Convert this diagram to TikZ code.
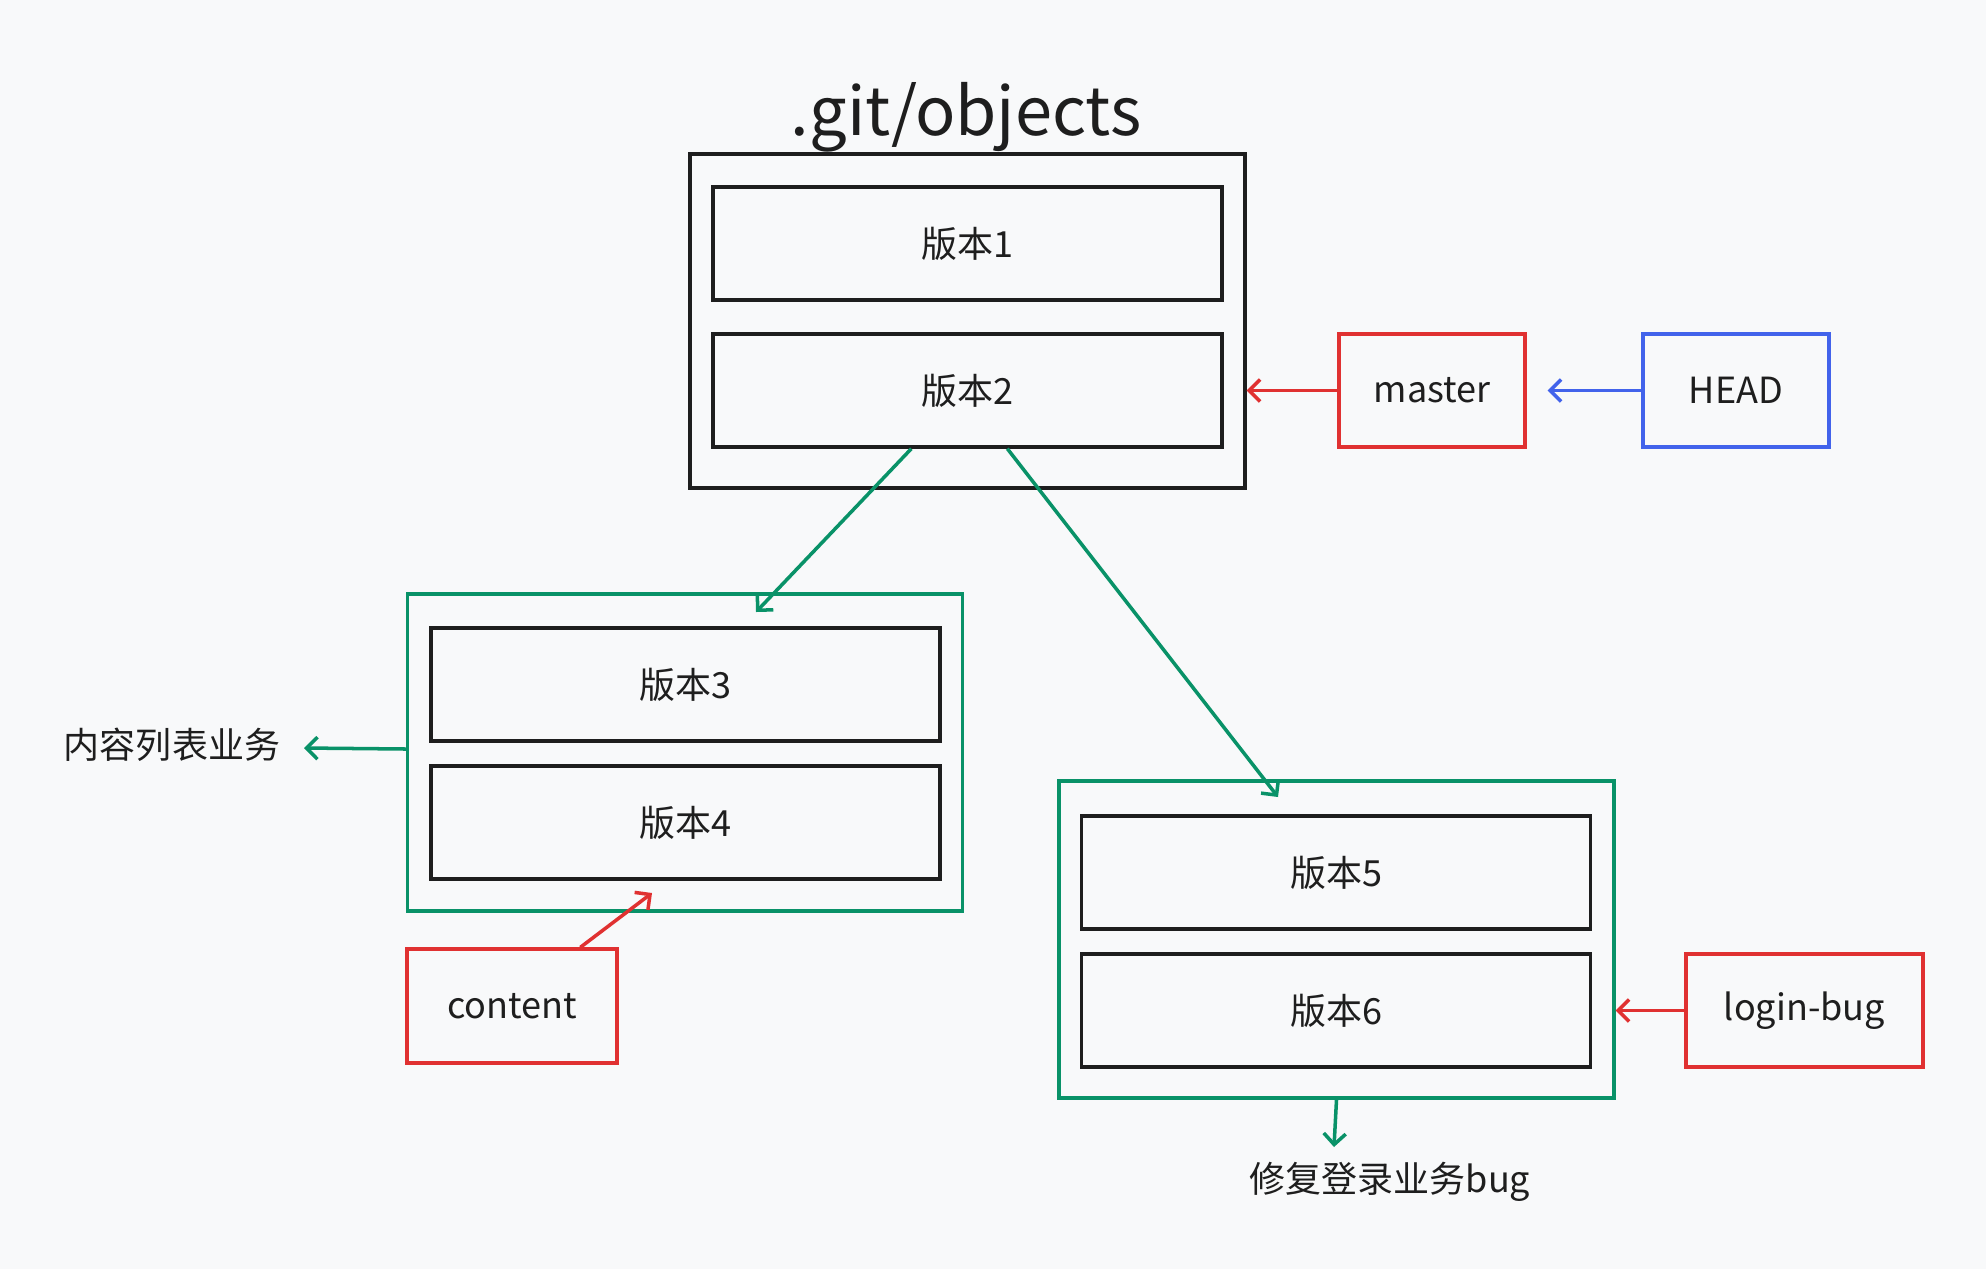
\documentclass[tikz,border=0pt]{standalone}
\usepackage{fontspec}
\setmainfont{Noto Sans CJK SC}
\usetikzlibrary{arrows.meta}
\definecolor{ink}{HTML}{1E1E1E}
\definecolor{exred}{HTML}{E03131}
\definecolor{exblue}{HTML}{4263EB}
\definecolor{exgreen}{HTML}{099268}
\definecolor{paper}{HTML}{F8F9FA}
\begin{document}
\begin{tikzpicture}[x=0.02cm, y=-0.02cm,
        label/.style={text=ink, inner sep=0pt, font=\fontsize{20.5}{24}\selectfont},
        version/.style={label, draw=ink, line width=1.9pt, minimum width=10.18cm, minimum height=2.26cm},
        group/.style={draw=exgreen, line width=1.9pt, inner sep=0pt, minimum width=11.1cm, minimum height=6.34cm},
        pointer/.style={label, line width=1.9pt, minimum height=2.26cm},
        link/.style={line width=2pt, -{Straight Barb[length=0.22cm, width=0.44cm, line width=2pt]}}]
                        \fill[paper] (0, 0) rectangle (1986, 1269);

                        \node[label, font=\fontsize{38}{44}\selectfont, anchor=base] (title) at (966, 135){.git/objects};
                        \node[draw=ink, line width=1.9pt, inner sep=0pt, minimum width=11.1cm, minimum height=6.68cm] (objects) at (967.5, 321){};
                        \node[group] (grpA) at (685, 752.5){};
                        \node[group] (grpB) at (1336.5, 939.5){};
                        \foreach \n/\x/\y in {1/967.5/243.5, 2/967.5/390.5, 3/685.5/684.5, 4/685.5/822.5, 5/1336/872.5, 6/1336/1010.5} {
                                \node[version] (v\n) at (\x, \y){版本\n};
                        }

                        \node[pointer, draw=exred, minimum width=3.72cm] (master) at (1432, 390.5){master};
                        \node[pointer, draw=exblue, minimum width=3.72cm] (head) at (1736, 390.5){HEAD};
                        \node[pointer, draw=exred, minimum width=4.2cm, minimum height=2.28cm] (content) at (512, 1006){content};
                        \node[pointer, draw=exred, minimum width=4.74cm] (loginbug) at (1804.5, 1010.5){login-bug};

                        \node[label] (lblA) at (172, 745){内容列表业务};
                        \node[label] (lblB) at (1390, 1182){修复登录业务bug};

                        \coordinate (intoA) at (756, 612);
                        \coordinate (intoB) at (1278, 797);
                        \coordinate (intoC) at (652, 893);
                        \coordinate (outA) at (304, 748);
                        \coordinate (outB) at (1334, 1147);

                        \draw[link, exred] (master.west) -- (master.west -| objects.east);
                        \draw[link, exblue, shorten >=0.42cm] (head.west) -- (master.east);
                        \draw[link, exgreen] ([xshift=4cm]v2.south west) -- (intoA);
                        \draw[link, exgreen] ([xshift=5.92cm]v2.south west) -- (intoB);
                        \draw[link, exred] ([xshift=3.5cm]content.north west) -- (intoC);
                        \draw[link, exred] (loginbug.west) -- (loginbug.west -| grpB.east);
                        \draw[link, exgreen] ([yshift=0.07cm]grpA.west) -- (outA);
                        \draw[link, exgreen] (grpB.south) -- (outB);
                \end{tikzpicture}
\end{document}
